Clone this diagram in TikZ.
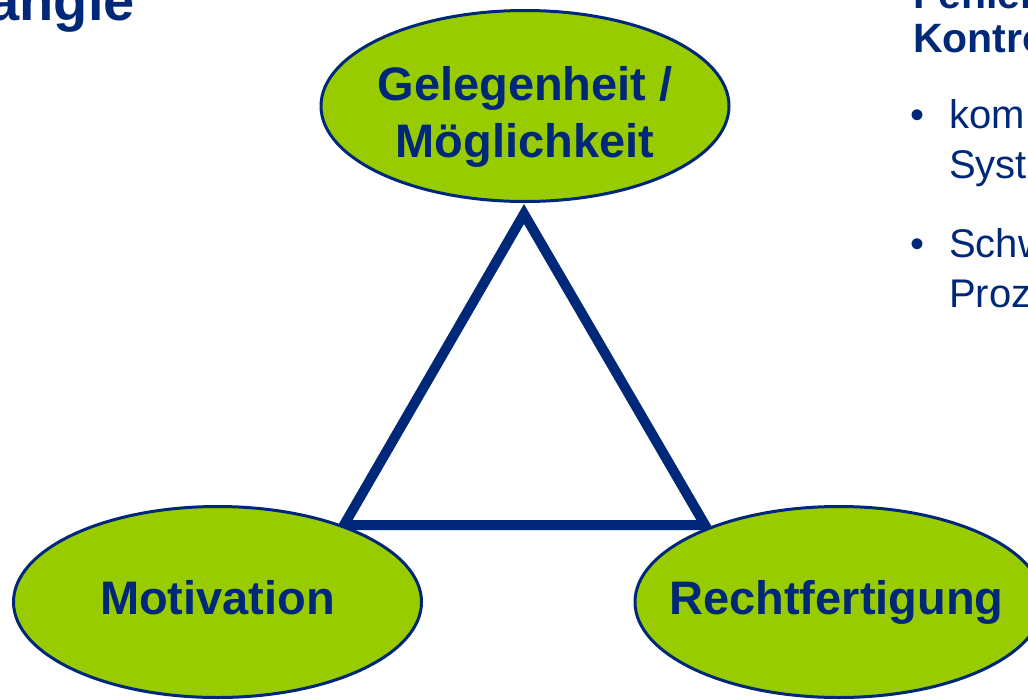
\documentclass[tikz,border=0pt]{standalone}
\usepackage{fontspec}
\setmainfont{Liberation Sans}
\usetikzlibrary{shapes.geometric}
\definecolor{fblue}{RGB}{0,40,120}
\definecolor{fgreen}{RGB}{153,204,0}
\begin{document}
\begin{tikzpicture}[x=1pt,y=-1pt,
  oval/.style={ellipse,draw=fblue,fill=fgreen,line width=3pt,inner sep=0pt,minimum width=408pt,minimum height=191pt},
  lbl/.style={text=fblue,font=\fontsize{47}{57}\selectfont\bfseries,inner sep=0pt,align=center},
  side/.style={line width=10pt,draw=fblue,line join=miter},
  body/.style={text=fblue,font=\fontsize{40}{50}\selectfont,inner sep=0pt,anchor=base west},
  head/.style={text=fblue,font=\fontsize{41}{44}\selectfont\bfseries,inner sep=0pt,anchor=base west},
  ttl/.style={text=fblue,font=\fontsize{56}{60}\selectfont\bfseries,inner sep=0pt,anchor=base east}]
\useasboundingbox (0,0) rectangle (1028,699);
\clip (0,0) rectangle (1028,699);
\fill[white] (0,0) rectangle (1028,699);
% triangle
\coordinate (apex) at (524,214);
\coordinate (bl) at (344,525);
\coordinate (br) at (705,525);
\draw[side] (apex) -- (bl) -- (br) -- cycle;
% ellipses
\node[oval] (gel) at (525,106) {};
\node[oval] (mot) at (217.5,602) {};
\node[oval] (rec) at (839,602) {};
% labels
\node[lbl] (gelt) at (525,117) {Gelegenheit /\\Möglichkeit};
\node[lbl,anchor=base] (mott) at (217.5,614) {Motivation};
\node[lbl,anchor=base] (rect) at (836.5,614) {Rechtfertigung};
% title fragment
\node[ttl] (ttl) at (135,20) {angle};
% right text fragments
\node[head] (h1) at (913,8) {Fehlen};
\node[head] (h2) at (913,52) {Kontro};
\node[body] (b1) at (910,128) {•};
\node[body] (t1) at (949,128) {kom};
\node[body] (t2) at (949,178) {Syst};
\node[body] (b2) at (910,257) {•};
\node[body] (t3) at (949,257) {Schw};
\node[body] (t4) at (949,307) {Proz};
\end{tikzpicture}
\end{document}
